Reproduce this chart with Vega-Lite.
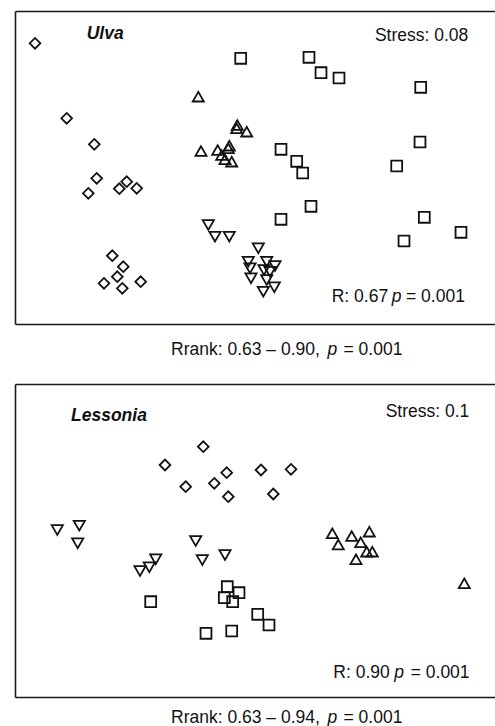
{
  "$schema": "https://vega.github.io/schema/vega-lite/v6.json",
  "padding": {"left": 15, "top": 11, "right": 0, "bottom": 0},
  "spacing": 60,
  "bounds": "flush",
  "config": {
    "view": {"stroke": null},
    "font": "Liberation Sans",
    "text": {"font": "Liberation Sans", "fontSize": 17.5, "color": "#111111"}
  },
  "datasets": {
    "points": [
      {"panel": "Ulva", "group": "Group 1", "x": -2.20, "y": 1.242},
      {"panel": "Ulva", "group": "Group 1", "x": -1.883, "y": 0.492},
      {"panel": "Ulva", "group": "Group 1", "x": -1.607, "y": 0.232},
      {"panel": "Ulva", "group": "Group 1", "x": -1.583, "y": -0.108},
      {"panel": "Ulva", "group": "Group 1", "x": -1.667, "y": -0.258},
      {"panel": "Ulva", "group": "Group 1", "x": -1.283, "y": -0.142},
      {"panel": "Ulva", "group": "Group 1", "x": -1.357, "y": -0.212},
      {"panel": "Ulva", "group": "Group 1", "x": -1.183, "y": -0.208},
      {"panel": "Ulva", "group": "Group 1", "x": -1.427, "y": -0.882},
      {"panel": "Ulva", "group": "Group 1", "x": -1.317, "y": -0.992},
      {"panel": "Ulva", "group": "Group 1", "x": -1.377, "y": -1.092},
      {"panel": "Ulva", "group": "Group 1", "x": -1.51, "y": -1.158},
      {"panel": "Ulva", "group": "Group 1", "x": -1.327, "y": -1.208},
      {"panel": "Ulva", "group": "Group 1", "x": -1.143, "y": -1.142},
      {"panel": "Ulva", "group": "Group 2", "x": -0.143, "y": 1.092},
      {"panel": "Ulva", "group": "Group 2", "x": 0.54, "y": 1.102},
      {"panel": "Ulva", "group": "Group 2", "x": 0.66, "y": 0.948},
      {"panel": "Ulva", "group": "Group 2", "x": 0.84, "y": 0.895},
      {"panel": "Ulva", "group": "Group 2", "x": 1.657, "y": 0.802},
      {"panel": "Ulva", "group": "Group 2", "x": 1.65, "y": 0.255},
      {"panel": "Ulva", "group": "Group 2", "x": 1.417, "y": 0.015},
      {"panel": "Ulva", "group": "Group 2", "x": 0.26, "y": 0.182},
      {"panel": "Ulva", "group": "Group 2", "x": 0.417, "y": 0.062},
      {"panel": "Ulva", "group": "Group 2", "x": 0.477, "y": -0.055},
      {"panel": "Ulva", "group": "Group 2", "x": 0.56, "y": -0.388},
      {"panel": "Ulva", "group": "Group 2", "x": 0.26, "y": -0.518},
      {"panel": "Ulva", "group": "Group 2", "x": 1.693, "y": -0.498},
      {"panel": "Ulva", "group": "Group 2", "x": 2.06, "y": -0.648},
      {"panel": "Ulva", "group": "Group 2", "x": 1.49, "y": -0.735},
      {"panel": "Ulva", "group": "Group 3", "x": -0.567, "y": 0.708},
      {"panel": "Ulva", "group": "Group 3", "x": -0.177, "y": 0.425},
      {"panel": "Ulva", "group": "Group 3", "x": -0.183, "y": 0.392},
      {"panel": "Ulva", "group": "Group 3", "x": -0.083, "y": 0.358},
      {"panel": "Ulva", "group": "Group 3", "x": -0.54, "y": 0.165},
      {"panel": "Ulva", "group": "Group 3", "x": -0.373, "y": 0.175},
      {"panel": "Ulva", "group": "Group 3", "x": -0.257, "y": 0.218},
      {"panel": "Ulva", "group": "Group 3", "x": -0.267, "y": 0.192},
      {"panel": "Ulva", "group": "Group 3", "x": -0.333, "y": 0.125},
      {"panel": "Ulva", "group": "Group 3", "x": -0.30, "y": 0.082},
      {"panel": "Ulva", "group": "Group 3", "x": -0.233, "y": 0.058},
      {"panel": "Ulva", "group": "Group 4", "x": -0.467, "y": -0.575},
      {"panel": "Ulva", "group": "Group 4", "x": -0.40, "y": -0.692},
      {"panel": "Ulva", "group": "Group 4", "x": -0.257, "y": -0.692},
      {"panel": "Ulva", "group": "Group 4", "x": 0.033, "y": -0.808},
      {"panel": "Ulva", "group": "Group 4", "x": -0.067, "y": -0.942},
      {"panel": "Ulva", "group": "Group 4", "x": 0.117, "y": -0.942},
      {"panel": "Ulva", "group": "Group 4", "x": 0.20, "y": -0.985},
      {"panel": "Ulva", "group": "Group 4", "x": -0.05, "y": -1.008},
      {"panel": "Ulva", "group": "Group 4", "x": 0.09, "y": -1.025},
      {"panel": "Ulva", "group": "Group 4", "x": 0.15, "y": -1.042},
      {"panel": "Ulva", "group": "Group 4", "x": -0.04, "y": -1.108},
      {"panel": "Ulva", "group": "Group 4", "x": 0.117, "y": -1.125},
      {"panel": "Ulva", "group": "Group 4", "x": 0.193, "y": -1.198},
      {"panel": "Ulva", "group": "Group 4", "x": 0.083, "y": -1.242},
      {"panel": "Lessonia", "group": "Group 1", "x": -0.517, "y": 0.938},
      {"panel": "Lessonia", "group": "Group 1", "x": -0.90, "y": 0.755},
      {"panel": "Lessonia", "group": "Group 1", "x": -0.693, "y": 0.538},
      {"panel": "Lessonia", "group": "Group 1", "x": -0.407, "y": 0.572},
      {"panel": "Lessonia", "group": "Group 1", "x": -0.283, "y": 0.678},
      {"panel": "Lessonia", "group": "Group 1", "x": -0.267, "y": 0.438},
      {"panel": "Lessonia", "group": "Group 1", "x": 0.06, "y": 0.705},
      {"panel": "Lessonia", "group": "Group 1", "x": 0.36, "y": 0.712},
      {"panel": "Lessonia", "group": "Group 1", "x": 0.183, "y": 0.465},
      {"panel": "Lessonia", "group": "Group 4", "x": -1.977, "y": 0.105},
      {"panel": "Lessonia", "group": "Group 4", "x": -1.757, "y": 0.148},
      {"panel": "Lessonia", "group": "Group 4", "x": -1.773, "y": -0.028},
      {"panel": "Lessonia", "group": "Group 4", "x": -0.593, "y": -0.005},
      {"panel": "Lessonia", "group": "Group 4", "x": -0.30, "y": -0.145},
      {"panel": "Lessonia", "group": "Group 4", "x": -0.527, "y": -0.195},
      {"panel": "Lessonia", "group": "Group 4", "x": -0.993, "y": -0.188},
      {"panel": "Lessonia", "group": "Group 4", "x": -1.057, "y": -0.268},
      {"panel": "Lessonia", "group": "Group 4", "x": -1.15, "y": -0.305},
      {"panel": "Lessonia", "group": "Group 3", "x": 0.773, "y": 0.072},
      {"panel": "Lessonia", "group": "Group 3", "x": 0.833, "y": -0.04},
      {"panel": "Lessonia", "group": "Group 3", "x": 0.967, "y": 0.045},
      {"panel": "Lessonia", "group": "Group 3", "x": 1.143, "y": 0.088},
      {"panel": "Lessonia", "group": "Group 3", "x": 1.057, "y": -0.018},
      {"panel": "Lessonia", "group": "Group 3", "x": 1.117, "y": -0.112},
      {"panel": "Lessonia", "group": "Group 3", "x": 1.173, "y": -0.112},
      {"panel": "Lessonia", "group": "Group 3", "x": 1.01, "y": -0.188},
      {"panel": "Lessonia", "group": "Group 3", "x": 2.093, "y": -0.428},
      {"panel": "Lessonia", "group": "Group 2", "x": -1.043, "y": -0.612},
      {"panel": "Lessonia", "group": "Group 2", "x": -0.277, "y": -0.462},
      {"panel": "Lessonia", "group": "Group 2", "x": -0.16, "y": -0.522},
      {"panel": "Lessonia", "group": "Group 2", "x": -0.307, "y": -0.572},
      {"panel": "Lessonia", "group": "Group 2", "x": -0.223, "y": -0.612},
      {"panel": "Lessonia", "group": "Group 2", "x": 0.027, "y": -0.738},
      {"panel": "Lessonia", "group": "Group 2", "x": 0.14, "y": -0.845},
      {"panel": "Lessonia", "group": "Group 2", "x": -0.49, "y": -0.928},
      {"panel": "Lessonia", "group": "Group 2", "x": -0.233, "y": -0.905}
    ],
    "titles": [
      {"panel": "Ulva", "x": -1.683, "y": 1.29, "text": "Ulva"},
      {"panel": "Lessonia", "x": -1.84, "y": 1.195, "text": "Lessonia"}
    ],
    "stress": [
      {"panel": "Ulva", "x": 2.133, "y": 1.265, "text": "Stress: 0.08"},
      {"panel": "Lessonia", "x": 2.143, "y": 1.235, "text": "Stress: 0.1"}
    ],
    "plain": [
      {"panel": "Ulva", "x": 0.767, "y": -1.345, "text": "R: 0.67"},
      {"panel": "Ulva", "x": 1.51, "y": -1.345, "text": "= 0.001"},
      {"panel": "Ulva", "x": -0.84, "y": -1.87, "text": "Rrank: 0.63 – 0.90,"},
      {"panel": "Ulva", "x": 0.885, "y": -1.87, "text": "= 0.001"},
      {"panel": "Lessonia", "x": 0.783, "y": -1.375, "text": "R: 0.90"},
      {"panel": "Lessonia", "x": 1.557, "y": -1.375, "text": "= 0.001"},
      {"panel": "Lessonia", "x": -0.84, "y": -1.82, "text": "Rrank: 0.63 – 0.94,"},
      {"panel": "Lessonia", "x": 0.885, "y": -1.82, "text": "= 0.001"}
    ],
    "italic": [
      {"panel": "Ulva", "x": 1.367, "y": -1.345, "text": "p"},
      {"panel": "Ulva", "x": 0.725, "y": -1.87, "text": "p"},
      {"panel": "Lessonia", "x": 1.393, "y": -1.375, "text": "p"},
      {"panel": "Lessonia", "x": 0.725, "y": -1.82, "text": "p"}
    ]
  },
  "vconcat": [
    {
      "width": 480,
      "height": 313,
      "resolve": {"axis": {"x": "independent", "y": "independent"}},
      "layer": [
        {
          "data": {"name": "points"},
          "transform": [{"filter": "datum.panel === 'Ulva'"}],
          "mark": {"type": "point", "filled": false, "strokeWidth": 1.8, "color": "#111111", "opacity": 1},
          "encoding": {
            "x": {"field": "x", "type": "quantitative", "scale": {"domain": [-2.4, 2.4], "nice": false, "zero": false},
                  "axis": {"orient": "bottom", "domain": true, "domainColor": "#1a1a1a", "domainWidth": 1.6, "ticks": false, "labels": false, "grid": false, "title": null}},
            "y": {"field": "y", "type": "quantitative", "scale": {"domain": [-1.565, 1.565], "nice": false, "zero": false},
                  "axis": {"orient": "left", "domain": true, "domainColor": "#1a1a1a", "domainWidth": 1.6, "ticks": false, "labels": false, "grid": false, "title": null}},
            "shape": {"field": "group", "type": "nominal", "scale": {"domain": ["Group 1", "Group 2", "Group 3", "Group 4"], "range": ["diamond", "square", "triangle-up", "triangle-down"]}, "legend": null},
            "size": {"field": "group", "type": "ordinal", "scale": {"domain": ["Group 1", "Group 2", "Group 3", "Group 4"], "range": [115, 125, 150, 150]}, "legend": null}
          }
        },
        {
          "data": {"name": "titles"},
          "transform": [{"filter": "datum.panel === 'Ulva'"}],
          "mark": {"type": "text", "align": "left", "baseline": "alphabetic", "fontStyle": "italic", "fontWeight": "bold"},
          "encoding": {
            "x": {"field": "x", "type": "quantitative", "scale": {"domain": [-2.4, 2.4], "nice": false, "zero": false},
                  "axis": {"orient": "top", "domain": true, "domainColor": "#1a1a1a", "domainWidth": 1.6, "ticks": false, "labels": false, "grid": false, "title": null}},
            "y": {"field": "y", "type": "quantitative", "scale": {"domain": [-1.565, 1.565], "nice": false, "zero": false}, "axis": null},
            "text": {"field": "text"}
          }
        },
        {
          "data": {"name": "stress"},
          "transform": [{"filter": "datum.panel === 'Ulva'"}],
          "mark": {"type": "text", "align": "right", "baseline": "alphabetic"},
          "encoding": {
            "x": {"field": "x", "type": "quantitative", "scale": {"domain": [-2.4, 2.4], "nice": false, "zero": false}, "axis": null},
            "y": {"field": "y", "type": "quantitative", "scale": {"domain": [-1.565, 1.565], "nice": false, "zero": false}, "axis": null},
            "text": {"field": "text"}
          }
        },
        {
          "data": {"name": "plain"},
          "transform": [{"filter": "datum.panel === 'Ulva'"}],
          "mark": {"type": "text", "align": "left", "baseline": "alphabetic"},
          "encoding": {
            "x": {"field": "x", "type": "quantitative", "scale": {"domain": [-2.4, 2.4], "nice": false, "zero": false}, "axis": null},
            "y": {"field": "y", "type": "quantitative", "scale": {"domain": [-1.565, 1.565], "nice": false, "zero": false}, "axis": null},
            "text": {"field": "text"}
          }
        },
        {
          "data": {"name": "italic"},
          "transform": [{"filter": "datum.panel === 'Ulva'"}],
          "mark": {"type": "text", "align": "left", "baseline": "alphabetic", "fontStyle": "italic"},
          "encoding": {
            "x": {"field": "x", "type": "quantitative", "scale": {"domain": [-2.4, 2.4], "nice": false, "zero": false}, "axis": null},
            "y": {"field": "y", "type": "quantitative", "scale": {"domain": [-1.565, 1.565], "nice": false, "zero": false}, "axis": null},
            "text": {"field": "text"}
          }
        }
      ]
    },
    {
      "width": 480,
      "height": 313,
      "resolve": {"axis": {"x": "independent", "y": "independent"}},
      "layer": [
        {
          "data": {"name": "points"},
          "transform": [{"filter": "datum.panel === 'Lessonia'"}],
          "mark": {"type": "point", "filled": false, "strokeWidth": 1.8, "color": "#111111", "opacity": 1},
          "encoding": {
            "x": {"field": "x", "type": "quantitative", "scale": {"domain": [-2.4, 2.4], "nice": false, "zero": false},
                  "axis": {"orient": "bottom", "domain": true, "domainColor": "#1a1a1a", "domainWidth": 1.6, "ticks": false, "labels": false, "grid": false, "title": null}},
            "y": {"field": "y", "type": "quantitative", "scale": {"domain": [-1.565, 1.565], "nice": false, "zero": false},
                  "axis": {"orient": "left", "domain": true, "domainColor": "#1a1a1a", "domainWidth": 1.6, "ticks": false, "labels": false, "grid": false, "title": null}},
            "shape": {"field": "group", "type": "nominal", "scale": {"domain": ["Group 1", "Group 2", "Group 3", "Group 4"], "range": ["diamond", "square", "triangle-up", "triangle-down"]}, "legend": null},
            "size": {"field": "group", "type": "ordinal", "scale": {"domain": ["Group 1", "Group 2", "Group 3", "Group 4"], "range": [115, 125, 150, 150]}, "legend": null}
          }
        },
        {
          "data": {"name": "titles"},
          "transform": [{"filter": "datum.panel === 'Lessonia'"}],
          "mark": {"type": "text", "align": "left", "baseline": "alphabetic", "fontStyle": "italic", "fontWeight": "bold"},
          "encoding": {
            "x": {"field": "x", "type": "quantitative", "scale": {"domain": [-2.4, 2.4], "nice": false, "zero": false},
                  "axis": {"orient": "top", "domain": true, "domainColor": "#1a1a1a", "domainWidth": 1.6, "ticks": false, "labels": false, "grid": false, "title": null}},
            "y": {"field": "y", "type": "quantitative", "scale": {"domain": [-1.565, 1.565], "nice": false, "zero": false}, "axis": null},
            "text": {"field": "text"}
          }
        },
        {
          "data": {"name": "stress"},
          "transform": [{"filter": "datum.panel === 'Lessonia'"}],
          "mark": {"type": "text", "align": "right", "baseline": "alphabetic"},
          "encoding": {
            "x": {"field": "x", "type": "quantitative", "scale": {"domain": [-2.4, 2.4], "nice": false, "zero": false}, "axis": null},
            "y": {"field": "y", "type": "quantitative", "scale": {"domain": [-1.565, 1.565], "nice": false, "zero": false}, "axis": null},
            "text": {"field": "text"}
          }
        },
        {
          "data": {"name": "plain"},
          "transform": [{"filter": "datum.panel === 'Lessonia'"}],
          "mark": {"type": "text", "align": "left", "baseline": "alphabetic"},
          "encoding": {
            "x": {"field": "x", "type": "quantitative", "scale": {"domain": [-2.4, 2.4], "nice": false, "zero": false}, "axis": null},
            "y": {"field": "y", "type": "quantitative", "scale": {"domain": [-1.565, 1.565], "nice": false, "zero": false}, "axis": null},
            "text": {"field": "text"}
          }
        },
        {
          "data": {"name": "italic"},
          "transform": [{"filter": "datum.panel === 'Lessonia'"}],
          "mark": {"type": "text", "align": "left", "baseline": "alphabetic", "fontStyle": "italic"},
          "encoding": {
            "x": {"field": "x", "type": "quantitative", "scale": {"domain": [-2.4, 2.4], "nice": false, "zero": false}, "axis": null},
            "y": {"field": "y", "type": "quantitative", "scale": {"domain": [-1.565, 1.565], "nice": false, "zero": false}, "axis": null},
            "text": {"field": "text"}
          }
        }
      ]
    }
  ]
}
